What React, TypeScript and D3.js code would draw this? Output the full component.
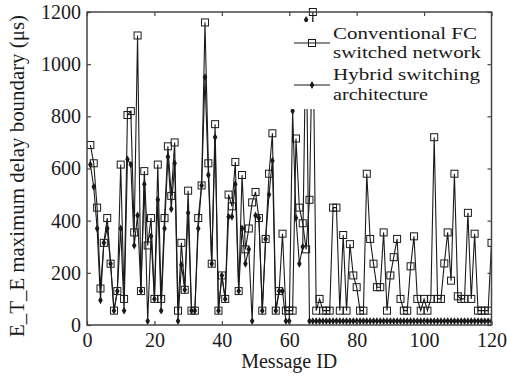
import React, { useEffect, useRef } from "react";
import * as d3 from "d3";

// E_T_E maximum delay boundary (us) per message ID 1..120
const conventional = [
  690, 620, 450, 140, 315, 410, 235, 55, 130, 615,
  100, 805, 820, 355, 1110, 130, 590, 305, 410, 100,
  615, 100, 410, 685, 495, 700, 55, 315, 135, 515,
  55, 55, 410, 535, 1160, 620, 235, 770, 55, 190,
  100, 500, 455, 625, 130, 575, 290, 370, 470, 510,
  410, 55, 330, 580, 735, 55, 130, 350, 55, 55,
  55, 715, 450, 390, 290, 480, 1200, 55, 100, 55,
  55, 55, 450, 450, 55, 345, 55, 310, 190, 145,
  55, 55, 580, 330, 235, 145, 145, 355, 55, 190,
  260, 330, 100, 55, 55, 225, 340, 100, 55, 100,
  55, 100, 720, 100, 100, 236, 355, 170, 580, 110,
  100, 100, 430, 100, 350, 55, 55, 55, 55, 315,
];

const hybrid = [
  615, 530, 370, 95, 315, 370, 235, 55, 130, 370,
  55, 635, 615, 305, 420, 130, 540, 15, 340, 100,
  480, 55, 370, 645, 445, 620, 15, 230, 135, 430,
  55, 55, 370, 535, 950, 575, 235, 720, 55, 190,
  100, 415, 415, 540, 130, 370, 235, 290, 15, 420,
  410, 55, 330, 500, 630, 55, 130, 130, 15, 15,
  820, 410, 235, 300, 1170, 15, 15, 15, 15, 15,
  15, 15, 15, 15, 15, 15, 15, 15, 15, 15,
  15, 15, 15, 15, 15, 15, 15, 15, 15, 15,
  15, 15, 15, 15, 15, 15, 15, 15, 15, 15,
  15, 15, 15, 15, 15, 15, 15, 15, 15, 15,
  15, 15, 15, 15, 15, 15, 15, 15, 15, 15,
];

const xTicks = [0, 20, 40, 60, 80, 100, 120];
const yTicks = [0, 200, 400, 600, 800, 1000, 1200];
const legendConv = ["Conventional FC", "switched network"];
const legendHybrid = ["Hybrid switching", "architecture"];

const width = 507;
const height = 376;
const marginTop = 12;
const marginRight = 15.5;
const marginBottom = 51;
const marginLeft = 87;
const font = "'Liberation Serif', 'Times New Roman', serif";
const ink = "#1a1a1a";
const frame = "#444";

const App = () => {
  const svgRef = useRef<SVGSVGElement>(null);

  useEffect(() => {
    const svg = d3.select(svgRef.current);
    svg.selectAll("*").remove();

    const x = d3.scaleLinear().domain([0, 120]).range([marginLeft, width - marginRight]);
    const y = d3.scaleLinear().domain([0, 1200]).range([height - marginBottom, marginTop]);
    const ids = d3.range(1, conventional.length + 1);

    svg.append("rect").attr("width", width).attr("height", height).attr("fill", "white");

    svg
      .append("clipPath")
      .attr("id", "plot-clip")
      .append("rect")
      .attr("x", marginLeft)
      .attr("y", marginTop - 6)
      .attr("width", width - marginLeft - marginRight)
      .attr("height", height - marginTop - marginBottom + 6);

    const plot = svg.append("g").attr("clip-path", "url(#plot-clip)");

    const line = d3
      .line<number>()
      .x((_, i) => x(ids[i]))
      .y((d) => y(d));

    // hybrid series (line + small dot markers)
    plot
      .append("path")
      .datum(hybrid)
      .attr("fill", "none")
      .attr("stroke", ink)
      .attr("stroke-width", 1.1)
      .attr("d", line);

    const diamond = d3.symbol().type(d3.symbolDiamond).size(18);
    plot
      .append("g")
      .selectAll("path")
      .data(hybrid)
      .join("path")
      .attr("transform", (d, i) => `translate(${x(ids[i])},${y(d)})`)
      .attr("d", diamond)
      .attr("fill", ink);

    // conventional series (line + open squares)
    plot
      .append("path")
      .datum(conventional)
      .attr("fill", "none")
      .attr("stroke", ink)
      .attr("stroke-width", 1.1)
      .attr("d", line);

    plot
      .append("g")
      .selectAll("rect")
      .data(conventional)
      .join("rect")
      .attr("x", (_, i) => x(ids[i]) - 3.5)
      .attr("y", (d) => y(d) - 3.5)
      .attr("width", 7)
      .attr("height", 7)
      .attr("fill", "none")
      .attr("stroke", ink)
      .attr("stroke-width", 1);

    // legend
    const lg = svg.append("g");
    lg.append("rect")
      .attr("x", 287)
      .attr("y", 22)
      .attr("width", 203)
      .attr("height", 87)
      .attr("fill", "white");

    lg.append("line")
      .attr("x1", 294).attr("x2", 330).attr("y1", 43).attr("y2", 43)
      .attr("stroke", ink).attr("stroke-width", 1.1);
    lg.append("rect")
      .attr("x", 308.5).attr("y", 39.5).attr("width", 7).attr("height", 7)
      .attr("fill", "none").attr("stroke", ink);
    lg.append("line")
      .attr("x1", 294).attr("x2", 330).attr("y1", 85).attr("y2", 85)
      .attr("stroke", ink).attr("stroke-width", 1.1);
    lg.append("path")
      .attr("transform", "translate(312,85)")
      .attr("d", diamond)
      .attr("fill", ink);

    // legend lines: tight spacing, width stretched to match the figure
    const legendText = (lines: string[], y0: number, widths: number[]) => {
      lines.forEach((s, i) => {
        lg.append("text")
          .attr("x", 333)
          .attr("y", y0 + i * 19.5)
          .attr("font-family", font)
          .attr("font-size", 17.5)
          .attr("textLength", widths[i])
          .attr("lengthAdjust", "spacingAndGlyphs")
          .attr("fill", ink)
          .text(s);
      });
    };
    legendText(legendConv, 38.5, [144, 148]);
    legendText(legendHybrid, 80, [147, 95]);

    // axes: labelled bottom/left, tick-only top/right (inward ticks)
    const fmt = d3.format("d");
    const bottom = svg
      .append("g")
      .attr("transform", `translate(0,${height - marginBottom})`)
      .call(d3.axisBottom(x).tickValues(xTicks).tickFormat(fmt).tickSizeInner(-4).tickSizeOuter(0).tickPadding(8));
    const left = svg
      .append("g")
      .attr("transform", `translate(${marginLeft},0)`)
      .call(d3.axisLeft(y).tickValues(yTicks).tickFormat(fmt).tickSizeInner(-4).tickSizeOuter(0).tickPadding(6));
    const top = svg
      .append("g")
      .attr("transform", `translate(0,${marginTop})`)
      .call(d3.axisTop(x).tickValues(xTicks).tickSizeInner(-4).tickSizeOuter(0).tickFormat(() => ""));
    const right = svg
      .append("g")
      .attr("transform", `translate(${width - marginRight},0)`)
      .call(d3.axisRight(y).tickValues(yTicks).tickSizeInner(-4).tickSizeOuter(0).tickFormat(() => ""));

    [bottom, left, top, right].forEach((g) => {
      g.attr("font-family", font).attr("font-size", 20);
      g.select(".domain").remove();
      g.selectAll(".tick line").attr("stroke", frame).attr("stroke-width", 1.2);
      g.selectAll("text")
        .attr("font-family", font)
        .attr("font-size", 20)
        .attr("fill", ink);
    });

    svg
      .append("rect")
      .attr("x", marginLeft)
      .attr("y", marginTop)
      .attr("width", width - marginLeft - marginRight)
      .attr("height", height - marginTop - marginBottom)
      .attr("fill", "none")
      .attr("stroke", frame)
      .attr("stroke-width", 1.5);

    // axis titles
    svg
      .append("text")
      .attr("x", (marginLeft + width - marginRight) / 2)
      .attr("y", 368)
      .attr("text-anchor", "middle")
      .attr("font-family", font)
      .attr("font-size", 20)
      .attr("fill", ink)
      .text("Message ID");

    svg
      .append("text")
      .attr("transform", "translate(24,176) rotate(-90)")
      .attr("text-anchor", "middle")
      .attr("font-family", font)
      .attr("font-size", 20)
      .attr("textLength", 322)
      .attr("lengthAdjust", "spacingAndGlyphs")
      .attr("fill", ink)
      .text("E_T_E maximum delay boundary (μs)");
  }, []);

  return (
    <svg
      ref={svgRef}
      width={width}
      height={height}
      style={{ position: "absolute", left: 0, top: 0 }}
    ></svg>
  );
};

export default App;
